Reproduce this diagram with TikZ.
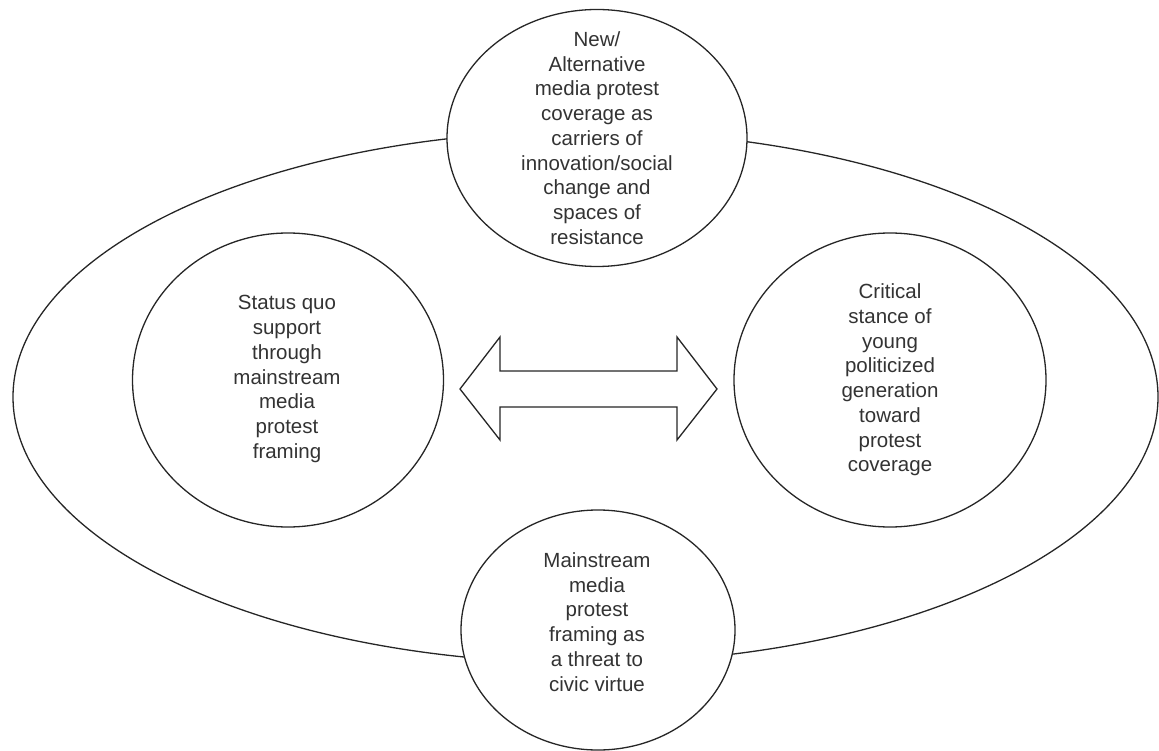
\documentclass[tikz,border=0pt]{standalone}
\usepackage{fontspec}
\setmainfont{Liberation Sans}
\usetikzlibrary{shapes.geometric}
\tikzset{
  circ/.style={ellipse, draw=black!85, line width=1.3pt, fill=white, inner sep=0pt},
  outline/.style={draw=black!85, line width=1.3pt},
  txt/.style={align=center, text=black!80, font=\fontsize{20.5}{24.7}\selectfont, inner sep=0pt}
}
\begin{document}
\begin{tikzpicture}[x=1pt,y=-1pt]
\useasboundingbox (0,0) rectangle (1159,751);
% big surrounding ellipse
\draw[outline] (585.5,397) ellipse [x radius=572.5pt, y radius=266pt];
% four ellipses
\node[circ, minimum width=300pt, minimum height=257pt] (top) at (597,138) {};
\node[txt] (toptext) at (597,138) {New/\\Alternative\\media protest\\coverage as\\carriers of\\innovation/social\\change and\\spaces of\\resistance};
\node[circ, minimum width=274pt, minimum height=240pt] (bottom) at (598,630) {};
\node[txt] (bottomtext) at (597,622) {Mainstream\\media\\protest\\framing as\\a threat to\\civic virtue};
\node[circ, minimum width=311pt, minimum height=294pt] (left) at (288,380) {};
\node[txt] (lefttext) at (287,379) {Status quo\\support\\through\\mainstream\\media\\protest\\framing};
\node[circ, minimum width=312pt, minimum height=294pt] (right) at (890,380) {};
\node[txt] (righttext) at (890,380) {Critical\\stance of\\young\\politicized\\generation\\toward\\protest\\coverage};
% double arrow
\draw[outline, line join=miter, fill=white]
  (460,389) -- (500,337) -- (500,371) -- (677,371) -- (677,337) -- (717,389)
  -- (677,440) -- (677,407) -- (500,407) -- (500,440) -- cycle;
\end{tikzpicture}
\end{document}
